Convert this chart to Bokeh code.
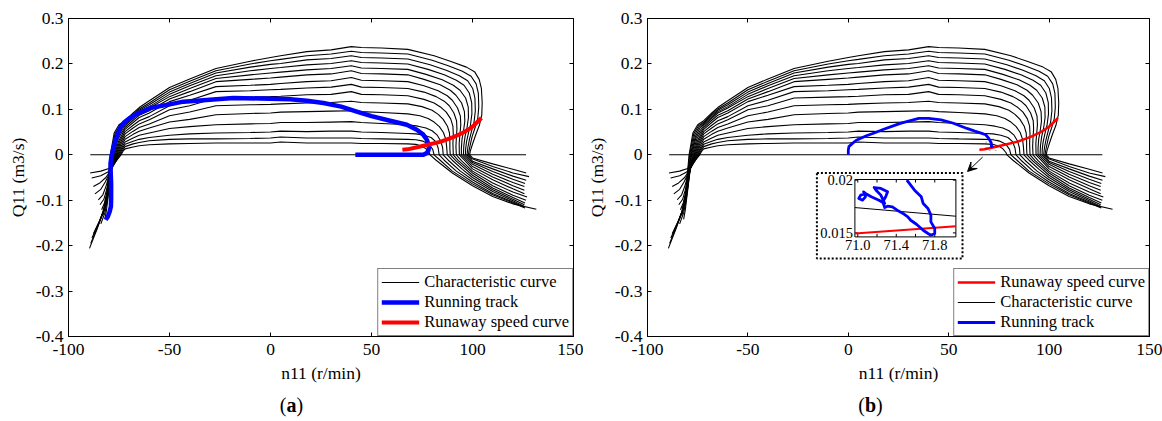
from bokeh.plotting import figure
from bokeh.models import (Range1d, LinearAxis, FixedTicker, Legend, LegendItem, Div,
                          Arrow, VeeHead, BoxAnnotation)
from bokeh.layouts import row, column
from bokeh.embed import file_html
from bokeh.resources import INLINE
from bokeh.core.properties import value

FONT = "Liberation Serif"

# ---------------- data ----------------
X_TICKS = [-100, -50, 0, 50, 100, 150]
X_TICK_LABELS = ["-100", "-50", "0", "50", "100", "150"]
Y_TICKS = [0.3, 0.2, 0.1, 0.0, -0.1, -0.2, -0.3, -0.4]
Y_TICK_LABELS = ["0.3", "0.2", "0.1", "0", "-0.1", "-0.2", "-0.3", "-0.4"]

CURVE_ZERO_N11 = [-89.2, 126.5]
CURVE_ZERO_Q = [0.0, 0.0]

CURVE_00_N11 = [-89.3, -84.0, -80.0, -77.5, -75.8, -74.0, -73.0, -72, -68, -65, -60, -50, -40, -27, -10, 0, 5, 18, 30, 40, 45, 55, 68, 72.0, 75.0, 77.0, 78.5, 79.0, 82.0, 90.0, 100.0, 110.0, 120.0, 131.6]
CURVE_00_Q = [-0.040, -0.036, -0.030, -0.020, -0.010, 0.0, 0.008, 0.013, 0.017, 0.020, 0.022, 0.024, 0.025, 0.026, 0.026, 0.026, 0.028, 0.026, 0.026, 0.026, 0.025, 0.025, 0.024, 0.023, 0.019, 0.013, 0.005, 0.0, -0.012, -0.040, -0.068, -0.092, -0.108, -0.120]

CURVE_01_N11 = [-88.5, -84.0, -80.5, -78.0, -76.3, -74.4, -73.2, -72, -68, -65, -60, -50, -40, -27, -10, 0, 5, 18, 30, 40, 45, 55, 68, 72.0, 75.5, 78.5, 80.3, 81.0, 84.0, 90.0, 100.0, 110.0, 120.0, 126.0]
CURVE_01_Q = [-0.051, -0.046, -0.038, -0.026, -0.013, 0.0, 0.010, 0.018, 0.024, 0.027, 0.031, 0.034, 0.035, 0.035, 0.036, 0.037, 0.039, 0.037, 0.037, 0.037, 0.036, 0.035, 0.034, 0.033, 0.030, 0.023, 0.012, 0.0, -0.012, -0.036, -0.064, -0.088, -0.106, -0.117]

CURVE_02_N11 = [-87.7, -84.5, -81.5, -79.0, -77.0, -74.8, -73.4, -72, -68, -65, -60, -50, -40, -27, -10, 0, 5, 18, 30, 40, 45, 55, 68, 72.0, 76.0, 79.5, 81.8, 83.0, 83.5, 86.0, 92.0, 100.0, 110.0, 120.0, 125.5]
CURVE_02_Q = [-0.070, -0.062, -0.050, -0.033, -0.016, 0.0, 0.013, 0.023, 0.030, 0.034, 0.038, 0.043, 0.046, 0.048, 0.049, 0.050, 0.052, 0.051, 0.052, 0.052, 0.050, 0.049, 0.047, 0.046, 0.043, 0.038, 0.029, 0.015, 0.0, -0.012, -0.036, -0.060, -0.085, -0.104, -0.115]

CURVE_03_N11 = [-86.9, -84.0, -81.8, -79.6, -77.5, -75.2, -73.6, -72, -68, -65, -60, -50, -40, -27, -10, 0, 5, 18, 30, 40, 45, 55, 68, 73.0, 77.0, 80.0, 82.4, 84.2, 85.2, 85.5, 88.0, 94.0, 100.0, 110.0, 120.0, 125.5]
CURVE_03_Q = [-0.086, -0.076, -0.060, -0.040, -0.018, 0.0, 0.016, 0.028, 0.037, 0.043, 0.048, 0.058, 0.062, 0.066, 0.068, 0.069, 0.071, 0.071, 0.072, 0.073, 0.071, 0.069, 0.066, 0.063, 0.059, 0.053, 0.044, 0.031, 0.016, 0.0, -0.012, -0.036, -0.055, -0.081, -0.101, -0.113]

CURVE_04_N11 = [-85.2, -83.0, -81.5, -79.8, -77.8, -75.6, -74.0, -72, -68, -65, -60, -50, -40, -27, -10, 0, 5, 18, 30, 40, 45, 55, 68, 74.0, 78.0, 81.0, 83.6, 85.6, 86.8, 87.2, 87.5, 90.0, 95.0, 100.0, 110.0, 120.0, 125.7]
CURVE_04_Q = [-0.099, -0.088, -0.070, -0.045, -0.020, 0.0, 0.018, 0.034, 0.045, 0.052, 0.059, 0.072, 0.078, 0.088, 0.091, 0.092, 0.094, 0.095, 0.096, 0.097, 0.095, 0.093, 0.090, 0.086, 0.080, 0.072, 0.062, 0.049, 0.034, 0.018, 0.0, -0.012, -0.032, -0.050, -0.077, -0.098, -0.110]

CURVE_05_N11 = [-84.4, -82.5, -81.2, -79.8, -78.0, -76.0, -74.2, -72, -68, -65, -60, -50, -40, -27, -10, 0, 5, 18, 30, 40, 45, 55, 68, 75.0, 80.0, 83.0, 85.5, 87.6, 88.6, 88.8, 88.8, 89.0, 92.0, 100.0, 110.0, 120.0, 126.0]
CURVE_05_Q = [-0.110, -0.098, -0.078, -0.050, -0.022, 0.0, 0.022, 0.040, 0.052, 0.060, 0.068, 0.086, 0.094, 0.108, 0.110, 0.111, 0.112, 0.114, 0.115, 0.118, 0.115, 0.114, 0.112, 0.106, 0.098, 0.089, 0.078, 0.063, 0.048, 0.030, 0.013, 0.0, -0.014, -0.045, -0.073, -0.094, -0.106]

CURVE_06_N11 = [-83.6, -82.2, -81.0, -79.8, -78.3, -76.4, -74.5, -72, -68, -65, -60, -50, -40, -27, -10, 0, 5, 18, 30, 40, 45, 55, 68, 76.0, 81.0, 84.5, 87.0, 89.2, 90.3, 90.5, 90.3, 90.5, 93.0, 100.0, 110.0, 120.0, 126.5]
CURVE_06_Q = [-0.121, -0.106, -0.084, -0.055, -0.024, 0.0, 0.025, 0.046, 0.059, 0.068, 0.077, 0.099, 0.108, 0.125, 0.127, 0.128, 0.129, 0.132, 0.133, 0.139, 0.133, 0.132, 0.130, 0.122, 0.114, 0.104, 0.094, 0.079, 0.063, 0.045, 0.025, 0.0, -0.013, -0.040, -0.068, -0.089, -0.100]

CURVE_07_N11 = [-82.8, -81.8, -80.8, -79.7, -78.5, -76.8, -74.8, -72, -68, -65, -60, -50, -40, -27, -10, 0, 5, 18, 30, 40, 45, 55, 68, 76.0, 82.0, 86.0, 88.5, 90.8, 92.1, 92.3, 92.0, 91.8, 92.0, 94.5, 100.0, 110.0, 120.0, 127.0]
CURVE_07_Q = [-0.132, -0.114, -0.090, -0.060, -0.026, 0.0, 0.028, 0.051, 0.065, 0.075, 0.084, 0.108, 0.120, 0.139, 0.141, 0.143, 0.144, 0.147, 0.149, 0.155, 0.149, 0.148, 0.146, 0.138, 0.128, 0.118, 0.108, 0.092, 0.075, 0.057, 0.038, 0.018, 0.0, -0.013, -0.036, -0.062, -0.082, -0.093]

CURVE_08_N11 = [-82.0, -81.2, -80.5, -79.6, -78.6, -77.2, -75.1, -73.3, -72, -68, -65, -60, -50, -40, -27, -10, 0, 5, 18, 30, 40, 45, 55, 68, 76.0, 83.0, 87.5, 90.0, 92.6, 94.0, 94.2, 93.8, 93.4, 93.5, 96.0, 100.0, 110.0, 120.0, 125.7]
CURVE_08_Q = [-0.142, -0.122, -0.096, -0.064, -0.028, 0.0, 0.031, 0.046, 0.056, 0.071, 0.082, 0.092, 0.117, 0.131, 0.150, 0.153, 0.155, 0.157, 0.161, 0.163, 0.170, 0.164, 0.163, 0.161, 0.152, 0.141, 0.130, 0.120, 0.103, 0.085, 0.066, 0.046, 0.025, 0.0, -0.012, -0.031, -0.055, -0.075, -0.086]

CURVE_09_N11 = [-84.0, -82.0, -80.8, -79.8, -78.8, -77.6, -75.5, -73.5, -72, -68, -65, -60, -50, -40, -27, -10, 0, 5, 18, 30, 40, 45, 55, 68, 76.0, 84.0, 89.0, 91.8, 94.6, 96.0, 96.2, 95.6, 94.8, 94.5, 94.5, 97.0, 100.0, 110.0, 120.0, 125.7]
CURVE_09_Q = [-0.152, -0.128, -0.102, -0.068, -0.030, 0.0, 0.034, 0.050, 0.060, 0.076, 0.087, 0.097, 0.123, 0.139, 0.161, 0.166, 0.169, 0.171, 0.176, 0.178, 0.185, 0.179, 0.178, 0.176, 0.166, 0.154, 0.142, 0.131, 0.114, 0.095, 0.074, 0.054, 0.034, 0.015, 0.0, -0.012, -0.026, -0.049, -0.068, -0.078]

CURVE_10_N11 = [-86.5, -83.5, -81.2, -80.0, -79.1, -78.0, -75.9, -73.7, -72, -68, -65, -60, -50, -40, -27, -10, 0, 5, 18, 30, 40, 45, 55, 68, 77.0, 85.0, 90.5, 93.8, 96.6, 97.9, 98.0, 97.3, 96.3, 95.7, 95.5, 98.0, 100.0, 110.0, 120.0, 125.7]
CURVE_10_Q = [-0.165, -0.136, -0.108, -0.072, -0.032, 0.0, 0.037, 0.054, 0.064, 0.080, 0.092, 0.103, 0.128, 0.146, 0.168, 0.176, 0.180, 0.182, 0.187, 0.190, 0.196, 0.191, 0.190, 0.188, 0.177, 0.165, 0.153, 0.142, 0.125, 0.105, 0.082, 0.060, 0.040, 0.020, 0.0, -0.012, -0.021, -0.043, -0.061, -0.070]

CURVE_11_N11 = [-87.7, -84.5, -81.8, -80.2, -79.3, -78.3, -76.2, -74.0, -72, -68, -65, -60, -50, -40, -27, -10, 0, 5, 18, 30, 40, 45, 55, 68, 78.0, 86.0, 92.0, 95.8, 98.4, 99.6, 99.7, 99.0, 97.9, 97.0, 96.6, 96.5, 98.5, 100.0, 110.0, 120.0, 126.0]
CURVE_11_Q = [-0.174, -0.144, -0.114, -0.076, -0.034, 0.0, 0.040, 0.058, 0.067, 0.083, 0.095, 0.106, 0.133, 0.152, 0.174, 0.185, 0.190, 0.192, 0.198, 0.201, 0.207, 0.203, 0.202, 0.200, 0.188, 0.176, 0.164, 0.153, 0.136, 0.115, 0.090, 0.066, 0.046, 0.028, 0.012, 0.0, -0.010, -0.017, -0.037, -0.054, -0.063]

CURVE_12_N11 = [-88.4, -85.0, -82.2, -80.5, -79.6, -78.6, -76.6, -74.3, -72, -68, -65, -60, -50, -40, -27, -10, 0, 5, 18, 30, 40, 45, 55, 68, 79.0, 87.0, 93.5, 97.6, 100.1, 101.2, 101.4, 100.8, 99.6, 98.5, 97.7, 97.3, 99.0, 100.0, 110.0, 120.0, 126.6]
CURVE_12_Q = [-0.183, -0.150, -0.118, -0.080, -0.036, 0.0, 0.043, 0.061, 0.070, 0.086, 0.098, 0.110, 0.138, 0.157, 0.180, 0.193, 0.199, 0.201, 0.209, 0.212, 0.218, 0.214, 0.213, 0.211, 0.198, 0.186, 0.174, 0.163, 0.146, 0.125, 0.097, 0.073, 0.053, 0.034, 0.016, 0.0, -0.009, -0.014, -0.031, -0.047, -0.056]

CURVE_13_N11 = [-89.0, -85.5, -82.6, -80.8, -79.9, -79.0, -77.0, -74.6, -72, -68, -65, -60, -50, -40, -27, -10, 0, 5, 18, 30, 40, 45, 55, 68, 80.0, 88.0, 95.0, 99.3, 101.8, 102.9, 103.1, 102.6, 101.3, 99.8, 98.8, 98.2, 98.0, 99.5, 110.0, 120.0, 128.0]
CURVE_13_Q = [-0.195, -0.158, -0.122, -0.084, -0.038, 0.0, 0.046, 0.064, 0.072, 0.089, 0.101, 0.114, 0.143, 0.162, 0.185, 0.200, 0.207, 0.210, 0.218, 0.222, 0.228, 0.225, 0.224, 0.222, 0.208, 0.196, 0.184, 0.173, 0.156, 0.135, 0.105, 0.080, 0.060, 0.040, 0.020, 0.007, 0.0, -0.008, -0.026, -0.040, -0.048]

CURVE_14_N11 = [-89.6, -86.0, -83.0, -81.1, -80.1, -79.3, -77.4, -75.0, -72, -68, -65, -60, -50, -40, -27, -10, 0, 5, 18, 30, 40, 45, 55, 68, 81.0, 89.0, 97.0, 101.0, 103.3, 104.4, 104.8, 104.6, 103.4, 101.6, 99.9, 98.9, 98.6, 100.0, 110.0, 120.0, 126.6]
CURVE_14_Q = [-0.206, -0.165, -0.127, -0.088, -0.040, 0.0, 0.048, 0.066, 0.075, 0.092, 0.104, 0.119, 0.148, 0.167, 0.190, 0.206, 0.214, 0.218, 0.227, 0.231, 0.238, 0.236, 0.235, 0.232, 0.218, 0.206, 0.193, 0.183, 0.166, 0.146, 0.115, 0.088, 0.065, 0.044, 0.022, 0.008, 0.0, -0.007, -0.020, -0.032, -0.040]

RUNAWAY_N11 = [65.3, 67.8, 72.0, 77.8, 84.4, 91.1, 95.0, 97.7, 100.0, 101.9, 103.3, 104.4]
RUNAWAY_Q = [0.011, 0.012, 0.016, 0.022, 0.029, 0.040, 0.048, 0.055, 0.062, 0.070, 0.076, 0.081]

TRACK_A_N11 = [-81.6, -80.6, -79.6, -79.0, -78.9, -78.9, -79.1, -79.2, -78.8, -78.4, -77.6, -76.7, -75.5, -74.3, -72.5, -70.0, -66.5, -59.6, -50.0, -43.1, -30.0, -18.4, -5.0, 9.7, 18.0, 26.2, 35.0, 42.7, 50.0, 59.2, 67.5, 72.4, 75.5, 77.4, 78.5, 78.2, 77.4, 75.7, 65.0, 55.0, 42.0]
TRACK_A_Q = [-0.143, -0.137, -0.125, -0.114, -0.095, -0.063, -0.040, -0.019, -0.006, 0.003, 0.018, 0.032, 0.047, 0.060, 0.071, 0.080, 0.089, 0.103, 0.111, 0.117, 0.121, 0.125, 0.124, 0.122, 0.119, 0.114, 0.106, 0.095, 0.085, 0.075, 0.066, 0.055, 0.045, 0.033, 0.019, 0.010, 0.004, 0.000, 0.000, 0.000, 0.000]

TRACK_B_N11 = [0.0, 0.0, 0.3, 1.8, 4.0, 9.0, 12.9, 17.0, 22.0, 25.9, 30.0, 35.1, 40.0, 46.2, 52.0, 59.1, 63.0, 66.5, 68.4, 70.0, 71.2, 71.3, 71.6, 71.8]
TRACK_B_Q = [0.000, 0.010, 0.018, 0.024, 0.032, 0.042, 0.048, 0.055, 0.063, 0.069, 0.074, 0.080, 0.080, 0.077, 0.070, 0.058, 0.052, 0.047, 0.044, 0.036, 0.026, 0.018, 0.019, 0.016]

# inset (zoom of the end of the running track)
INSET_N11_RANGE = [70.97, 72.02]
INSET_Q_RANGE = [0.01462, 0.02006]
INSET_X_TICKS = [71.0, 71.2, 71.4, 71.6, 71.8]
INSET_X_LABEL_TICKS = [71.0, 71.4, 71.8]
INSET_X_LABELS = ["71.0", "71.4", "71.8"]
INSET_Y_TICKS = [0.015, 0.02]
INSET_Y_LABELS = ["0.015", "0.02"]
INSET_CHAR_N11 = [70.97, 72.02]
INSET_CHAR_Q = [0.0174, 0.01658]
INSET_RUNAWAY_N11 = [70.97, 72.02]
INSET_RUNAWAY_Q = [0.01494, 0.01563]
INSET_TRACK_N11 = [71.51, 71.59, 71.66, 71.68, 71.73, 71.76, 71.76, 71.80, 71.80, 71.76, 71.73, 71.68, 71.61, 71.55, 71.52, 71.47, 71.42, 71.36, 71.31, 71.28, 71.26, 71.29, 71.31, 71.24, 71.17, 71.19, 71.24, 71.28, 71.22, 71.14, 71.08, 71.03, 71.01, 71.05, 71.08, 71.06, 71.10]
INSET_TRACK_Q = [0.02000, 0.01905, 0.01842, 0.01778, 0.01731, 0.01668, 0.01604, 0.01541, 0.01494, 0.01478, 0.01494, 0.01525, 0.01582, 0.01620, 0.01652, 0.01684, 0.01709, 0.01747, 0.01753, 0.01740, 0.01794, 0.01842, 0.01889, 0.01921, 0.01930, 0.01905, 0.01858, 0.01778, 0.01810, 0.01842, 0.01873, 0.01858, 0.01826, 0.01810, 0.01842, 0.01889, 0.01858]

# zoom-region marker and arrow in panel (b)
ZOOM_BOX = dict(left=68.6, right=74.4, bottom=0.0095, top=0.0345)
ARROW_FROM = (66.9, -0.005)
ARROW_TO = (59.4, -0.0367)

CHAR_XS = [CURVE_ZERO_N11, CURVE_00_N11, CURVE_01_N11, CURVE_02_N11, CURVE_03_N11, CURVE_04_N11,
           CURVE_05_N11, CURVE_06_N11, CURVE_07_N11, CURVE_08_N11, CURVE_09_N11, CURVE_10_N11,
           CURVE_11_N11, CURVE_12_N11, CURVE_13_N11, CURVE_14_N11]
CHAR_YS = [CURVE_ZERO_Q, CURVE_00_Q, CURVE_01_Q, CURVE_02_Q, CURVE_03_Q, CURVE_04_Q,
           CURVE_05_Q, CURVE_06_Q, CURVE_07_Q, CURVE_08_Q, CURVE_09_Q, CURVE_10_Q,
           CURVE_11_Q, CURVE_12_Q, CURVE_13_Q, CURVE_14_Q]

# ---------------- layout ----------------
FH = 318
FW_A = 505
FW_B = 502
TXT = "17.5px"
TOP = 18
BOTTOM = 56


def make_panel(fw, left, right):
    p = figure(frame_width=fw, frame_height=FH, x_range=Range1d(-100, 150), y_range=Range1d(-0.4, 0.3),
               output_backend="svg", toolbar_location=None,
               min_border_left=left, min_border_right=right, min_border_top=TOP, min_border_bottom=BOTTOM,
               background_fill_color="white", border_fill_color="white")
    p.grid.visible = False
    p.outline_line_color = "black"
    p.outline_line_width = 1
    p.xaxis.ticker = FixedTicker(ticks=X_TICKS)
    p.xaxis.major_label_overrides = dict(zip(X_TICKS, X_TICK_LABELS))
    p.yaxis.ticker = FixedTicker(ticks=Y_TICKS)
    p.yaxis.major_label_overrides = dict(zip(Y_TICKS, Y_TICK_LABELS))
    p.xaxis.axis_label = "n11 (r/min)"
    p.yaxis.axis_label = "Q11 (m3/s)"
    for ax in (p.xaxis[0], p.yaxis[0]):
        ax.major_tick_in = 4
        ax.major_tick_out = 0
        ax.minor_tick_in = 0
        ax.minor_tick_out = 0
        ax.axis_line_color = "black"
        ax.major_tick_line_color = "black"
        ax.major_label_text_font = FONT
        ax.major_label_text_font_size = TXT
        ax.major_label_text_color = "black"
        ax.axis_label_text_font = FONT
        ax.axis_label_text_font_size = TXT
        ax.axis_label_text_font_style = "normal"
        ax.axis_label_text_color = "black"
    p.xaxis.major_label_standoff = 7
    p.yaxis.major_label_standoff = 5
    p.xaxis.axis_label_standoff = 5
    p.yaxis.axis_label_standoff = 5
    top = LinearAxis(ticker=FixedTicker(ticks=X_TICKS), major_tick_in=4, major_tick_out=0,
                     minor_tick_in=0, minor_tick_out=0, major_label_standoff=0,
                     major_label_text_font_size="0px", axis_line_color="black",
                     major_label_overrides={t: "" for t in X_TICKS})
    rgt = LinearAxis(ticker=FixedTicker(ticks=Y_TICKS), major_tick_in=4, major_tick_out=0,
                     minor_tick_in=0, minor_tick_out=0, major_label_standoff=0,
                     major_label_text_font_size="0px", axis_line_color="black",
                     major_label_overrides={t: "" for t in Y_TICKS})
    p.add_layout(top, "above")
    p.add_layout(rgt, "right")
    return p


def caption(letter, width):
    html = ('<div style="width:%dpx;text-align:center;font-family:\'Liberation Serif\',serif;'
            'font-size:20px;line-height:26px;color:black;">(<b>%s</b>)</div>' % (width, letter))
    return Div(text=html, width=width, height=26, margin=0)


def style_legend(lg):
    lg.location = "bottom_right"
    lg.margin = 0
    lg.padding = 3
    lg.spacing = 0
    lg.glyph_width = 38
    lg.glyph_height = 18
    lg.label_height = 18
    lg.label_standoff = 5
    lg.label_text_font = FONT
    lg.label_text_font_size = "16.5px"
    lg.label_text_color = "black"
    lg.border_line_color = "black"
    lg.border_line_width = 1
    lg.background_fill_color = "white"
    lg.background_fill_alpha = 1


# ---- panel (a)
pa = make_panel(FW_A, 68, 10)
ra_char = pa.multi_line(xs=CHAR_XS, ys=CHAR_YS, line_color="black", line_width=1.1)
ra_track = pa.line(TRACK_A_N11, TRACK_A_Q, line_color="#0000ff", line_width=4.5, line_join="round")
ra_run = pa.line(RUNAWAY_N11, RUNAWAY_Q, line_color="#ff0000", line_width=4, line_join="round")
lga = Legend(items=[LegendItem(label="Characteristic curve", renderers=[ra_char]),
                    LegendItem(label="Running track", renderers=[ra_track]),
                    LegendItem(label="Runaway speed curve", renderers=[ra_run])])
style_legend(lga)
pa.add_layout(lga)

# ---- panel (b)
pb = make_panel(FW_B, 60, 13)
rb_char = pb.multi_line(xs=CHAR_XS, ys=CHAR_YS, line_color="black", line_width=1.1)
rb_run = pb.line(RUNAWAY_N11, RUNAWAY_Q, line_color="#ff0000", line_width=2.5)
rb_track = pb.line(TRACK_B_N11, TRACK_B_Q, line_color="#0000ff", line_width=2.8, line_join="round")
lgb = Legend(items=[LegendItem(label="Runaway speed curve", renderers=[rb_run]),
                    LegendItem(label="Characteristic curve", renderers=[rb_char]),
                    LegendItem(label="Running track", renderers=[rb_track])])
style_legend(lgb)
pb.add_layout(lgb)

pb.add_layout(BoxAnnotation(line_color="black", line_dash="dotted", line_width=1,
                            fill_color=None, fill_alpha=0, **ZOOM_BOX))
pb.add_layout(Arrow(end=VeeHead(size=9, fill_color="black", line_color="black"),
                    x_start=ARROW_FROM[0], y_start=ARROW_FROM[1],
                    x_end=ARROW_TO[0], y_end=ARROW_TO[1], line_color="black", line_width=1))

# inset drawn on extra ranges mapped to a small box inside the frame of panel (b)
ins_l, ins_r, ins_t, ins_b = 207.4, 308.4, 161.0, 218.4  # px inside the frame
sx = (INSET_N11_RANGE[1] - INSET_N11_RANGE[0]) / (ins_r - ins_l)
sy = (INSET_Q_RANGE[1] - INSET_Q_RANGE[0]) / (ins_b - ins_t)
ix0 = INSET_N11_RANGE[0] - ins_l * sx
iy0 = INSET_Q_RANGE[0] - (FH - ins_b) * sy
pb.extra_x_ranges = {"ix": Range1d(ix0, ix0 + FW_B * sx)}
pb.extra_y_ranges = {"iy": Range1d(iy0, iy0 + FH * sy)}
IK = dict(x_range_name="ix", y_range_name="iy")


def ipx(px):
    return ix0 + px * sx


def ipy(py):
    return iy0 + (FH - py) * sy


# dotted outer frame of the inset
pb.quad(left=[ipx(169.4)], right=[ipx(315.0)], top=[ipy(154.4)], bottom=[ipy(240.0)],
        fill_color="white", line_color="black", line_dash="2 2", line_width=2, **IK)
# inset axes box
pb.quad(left=[INSET_N11_RANGE[0]], right=[INSET_N11_RANGE[1]], top=[INSET_Q_RANGE[1]],
        bottom=[INSET_Q_RANGE[0]], fill_color="white", line_color="black", line_width=1, **IK)
tl_y = 3 * sy
tl_x = 3 * sx
pb.segment(x0=INSET_X_TICKS, y0=[INSET_Q_RANGE[0]] * len(INSET_X_TICKS),
           x1=INSET_X_TICKS, y1=[INSET_Q_RANGE[0] + tl_y] * len(INSET_X_TICKS), line_color="black", **IK)
pb.segment(x0=INSET_X_TICKS, y0=[INSET_Q_RANGE[1]] * len(INSET_X_TICKS),
           x1=INSET_X_TICKS, y1=[INSET_Q_RANGE[1] - tl_y] * len(INSET_X_TICKS), line_color="black", **IK)
pb.segment(x0=[INSET_N11_RANGE[0]] * len(INSET_Y_TICKS), y0=INSET_Y_TICKS,
           x1=[INSET_N11_RANGE[0] + tl_x] * len(INSET_Y_TICKS), y1=INSET_Y_TICKS, line_color="black", **IK)
pb.segment(x0=[INSET_N11_RANGE[1]] * len(INSET_Y_TICKS), y0=INSET_Y_TICKS,
           x1=[INSET_N11_RANGE[1] - tl_x] * len(INSET_Y_TICKS), y1=INSET_Y_TICKS, line_color="black", **IK)
pb.line(INSET_CHAR_N11, INSET_CHAR_Q, line_color="black", line_width=1, **IK)
pb.line(INSET_RUNAWAY_N11, INSET_RUNAWAY_Q, line_color="#ff0000", line_width=2, **IK)
pb.line(INSET_TRACK_N11, INSET_TRACK_Q, line_color="#0000ff", line_width=2.8, line_join="round", **IK)
pb.text(x=INSET_X_LABEL_TICKS, y=[INSET_Q_RANGE[0]] * len(INSET_X_LABEL_TICKS), text=INSET_X_LABELS,
        text_font=value(FONT), text_font_size="14.5px", text_align="center", text_baseline="top",
        y_offset=3, text_color="black", **IK)
pb.text(x=[INSET_N11_RANGE[0]] * len(INSET_Y_TICKS), y=INSET_Y_TICKS, text=INSET_Y_LABELS,
        text_font=value(FONT), text_font_size="14.5px", text_align="right", text_baseline="middle",
        x_offset=-2, text_color="black", **IK)

WA = 68 + FW_A + 10
WB = 60 + FW_B + 13
layout = row(column(pa, caption("a", WA), spacing=0), column(pb, caption("b", WB), spacing=0), spacing=0)
open("out.html", "w").write(file_html(layout, INLINE))
